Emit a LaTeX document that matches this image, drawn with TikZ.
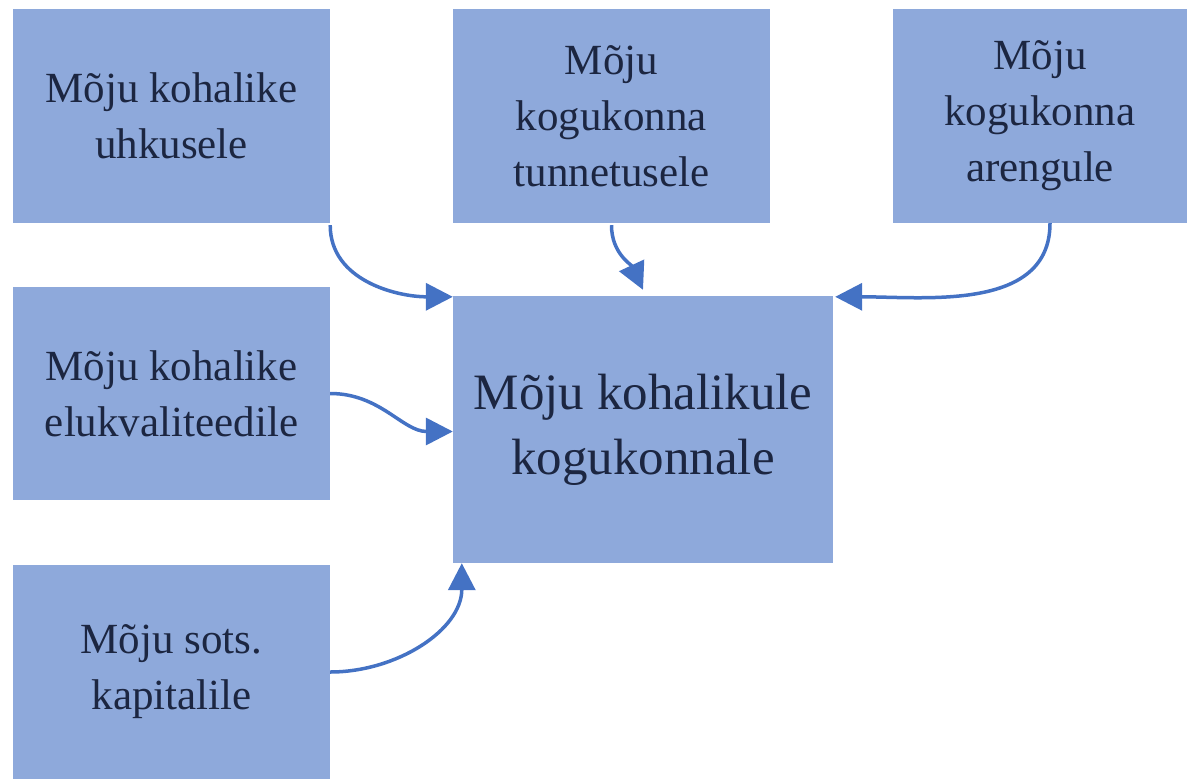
\documentclass[tikz,border=0pt]{standalone}
\usepackage{fontspec}
\setmainfont{Liberation Serif}
\usepackage{tikz}
\usetikzlibrary{arrows.meta}
\definecolor{boxblue}{HTML}{8EA9DB}
\definecolor{arrowblue}{HTML}{4472C4}
\definecolor{textnavy}{HTML}{1C2641}

\begin{document}
\begin{tikzpicture}[x=1pt, y=-1pt,
			mybox/.style={fill=boxblue, text=textnavy, align=center, inner sep=0pt, minimum width=317pt, minimum height=214pt, font=\fontsize{43}{56}\selectfont},
			myarrow/.style={-{Triangle[length=27pt, width=27pt]}, line width=3.5pt, color=arrowblue}
		]
		\useasboundingbox (0,0) rectangle (1196,779);

		\node[mybox] (uhkus) at (171.5,116) {Mõju kohalike\\uhkusele};
		\node[mybox] (tunne) at (611.5,116) {Mõju\\kogukonna\\tunnetusele};
		\node[mybox, minimum width=294pt] (areng) at (1040,116) {Mõju\\kogukonna\\arengule};
		\node[mybox, minimum height=213pt] (elu) at (171.5,393.5) {Mõju kohalike\\elukvaliteedile};
		\node[mybox] (kapital) at (171.5,672) {Mõju sots.\\kapitalile};

		\node[mybox, minimum width=380pt, minimum height=267pt, font=\fontsize{51}{65}\selectfont] (main) at (643,429.5) {Mõju kohalikule\\kogukonnale};

		\draw[myarrow] ([yshift=-2pt]uhkus.south east) to[out=-90, in=180] ([yshift=-1pt]main.north west);
		\draw[myarrow] ([yshift=-2pt]tunne.south) to[out=-90, in=115] ([yshift=6pt]main.north);
		\draw[myarrow] ([xshift=10pt]areng.south) to[out=-90, in=0] ([xshift=2pt, yshift=-1pt]main.north east);
		\draw[myarrow] (elu.east) to[out=0, in=180] ([yshift=-2pt]main.west);
		\draw[myarrow] (kapital.east) to[out=0, in=-90] ([xshift=9pt]main.south west);

	\end{tikzpicture}
\end{document}
